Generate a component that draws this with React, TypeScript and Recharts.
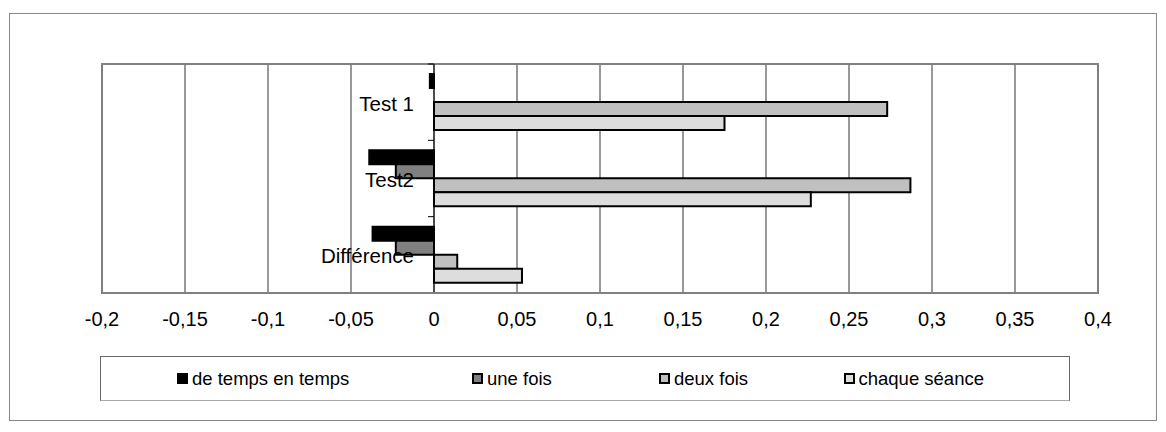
import React from "react";
import { BarChart, Bar, XAxis, YAxis, CartesianGrid, ReferenceLine, ReferenceArea, Legend } from "recharts";

const categories = ["Test 1", "Test2", "Différence"];
const deTempsEnTemps = [-0.0025, -0.039, -0.037];
const uneFois = [0, -0.023, -0.023];
const deuxFois = [0.273, 0.287, 0.014];
const chaqueSeance = [0.175, 0.227, 0.053];
const xTicks = [-0.2, -0.15, -0.1, -0.05, 0, 0.05, 0.1, 0.15, 0.2, 0.25, 0.3, 0.35, 0.4];

const series = [
  { key: "deTempsEnTemps", name: "de temps en temps", fill: "#000000", itemWidth: 295 },
  { key: "uneFois", name: "une fois", fill: "#808080", itemWidth: 187 },
  { key: "deuxFois", name: "deux fois", fill: "#c0c0c0", itemWidth: 185 },
  { key: "chaqueSeance", name: "chaque séance", fill: "#dddddd", itemWidth: 140 },
];

const data = categories.map((name, i) => ({
  name,
  deTempsEnTemps: deTempsEnTemps[i],
  uneFois: uneFois[i],
  deuxFois: deuxFois[i],
  chaqueSeance: chaqueSeance[i],
}));

const FONT = "'Liberation Sans', Arial, sans-serif";

// category names + small ticks sit on the zero axis, like Excel does
function CategoryLabels(props: any) {
  const vb = props.viewBox || {};
  const x = vb.x ?? 0;
  const y = vb.y ?? 0;
  const h = vb.height ?? 0;
  const band = h / categories.length;
  return (
    <g>
      {categories.map((_, i) => (
        <line key={"t" + i} x1={x - 6} x2={x} y1={y + band * i} y2={y + band * i} stroke="#000" strokeWidth={1} />
      ))}
      <line x1={x - 6} x2={x} y1={y + h} y2={y + h} stroke="#000" strokeWidth={1} />
      {categories.map((c, i) => (
        <text
          key={c}
          x={x - 20}
          y={y + band * (i + 0.5) + 1}
          textAnchor="end"
          dominantBaseline="central"
          fontSize={20.5}
          fontFamily={FONT}
          fill="#000"
        >
          {c}
        </text>
      ))}
    </g>
  );
}

function LegendBox() {
  return (
    <div
      style={{
        boxSizing: "border-box",
        width: 970,
        height: 45,
        border: "1px solid #666",
        borderBottomColor: "#aaa",
        display: "flex",
        alignItems: "center",
        paddingLeft: 76,
        fontFamily: FONT,
        fontSize: 18.5,
        color: "#000",
      }}
    >
      {series.map((s) => (
        <div key={s.key} style={{ width: s.itemWidth, display: "flex", alignItems: "center", whiteSpace: "nowrap" }}>
          <span
            style={{
              display: "inline-block",
              boxSizing: "border-box",
              width: 11,
              height: 11,
              background: s.fill,
              border: "2px solid #000",
              marginRight: 4,
            }}
          />
          {s.name}
        </div>
      ))}
    </div>
  );
}

export default function App() {
  return (
    <div style={{ position: "absolute", left: 0, top: 0, width: 1166, height: 432, background: "#fff" }}>
      <div
        style={{
          position: "absolute",
          left: 9,
          top: 13,
          width: 1148,
          height: 408,
          border: "1px solid #888",
          boxSizing: "border-box",
        }}
      />
      <BarChart
        width={1166}
        height={432}
        data={data}
        layout="vertical"
        margin={{ top: 64, right: 68, bottom: 109, left: 102 }}
        barGap={0}
        barSize={14}
        style={{ position: "absolute", left: 0, top: 0 }}
      >
        <CartesianGrid horizontal={false} stroke="#999" strokeWidth={2} />
        <ReferenceArea x1={-0.2} x2={0.4} fill="none" stroke="#808080" strokeWidth={2} />
        <XAxis
          type="number"
          domain={[-0.2, 0.4]}
          ticks={xTicks}
          interval={0}
          height={30}
          tickLine={false}
          tickSize={6}
          tickMargin={13}
          axisLine={{ stroke: "#808080", strokeWidth: 2 }}
          tick={{ fontSize: 20, fill: "#000", fontFamily: FONT }}
          tickFormatter={(v) => String(v).replace(".", ",")}
        />
        <YAxis type="category" dataKey="name" hide />
        {series.map((s) => (
          <Bar
            key={s.key}
            dataKey={s.key}
            name={s.name}
            fill={s.fill}
            stroke="#000"
            strokeWidth={2}
            isAnimationActive={false}
          />
        ))}
        <ReferenceLine x={0} stroke="#000" strokeWidth={1} label={CategoryLabels} />
        <Legend
          layout="horizontal"
          verticalAlign="middle"
          align="center"
          content={() => <LegendBox />}
          wrapperStyle={{ position: "absolute", left: 100, top: 356, width: 970, height: 45 }}
        />
      </BarChart>
    </div>
  );
}
